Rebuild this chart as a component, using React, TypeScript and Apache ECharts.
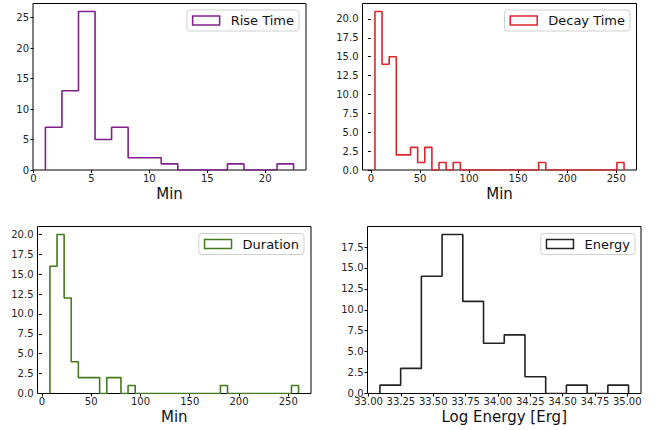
import React, { useEffect, useRef } from 'react';
import * as echarts from 'echarts';

// ---- data ----
const riseRange = [1.03, 22.45];
const riseCounts = [7, 13, 26, 5, 7, 2, 2, 1, 0, 0, 0, 1, 0, 0, 1];

const decayRange = [4.1, 257.9];
const decayCounts = [21, 14, 15, 2, 2, 3, 1, 3, 0, 1, 0, 1, 0, 0, 0, 0, 0, 0, 0, 0, 0, 0, 0, 1, 0, 0, 0, 0, 0, 0, 0, 0, 0, 0, 1];

const durationRange = [8.1, 260.5];
const durationCounts = [16, 20, 12, 4, 2, 2, 2, 0, 2, 2, 0, 1, 0, 0, 0, 0, 0, 0, 0, 0, 0, 0, 0, 0, 1, 0, 0, 0, 0, 0, 0, 0, 0, 0, 1];

const energyRange = [33.088, 35.01];
const energyCounts = [1, 3, 14, 19, 11, 6, 7, 2, 0, 1, 0, 1];

const riseXTicks = [0, 5, 10, 15, 20];
const riseYTicks = [0, 5, 10, 15, 20, 25];
const minXTicks = [0, 50, 100, 150, 200, 250];
const decayYTicks = [0, 2.5, 5, 7.5, 10, 12.5, 15, 17.5, 20];
const durationYTicks = [0, 2.5, 5, 7.5, 10, 12.5, 15, 17.5, 20];
const energyXTicks = [33, 33.25, 33.5, 33.75, 34, 34.25, 34.5, 34.75, 35];
const energyYTicks = [0, 2.5, 5, 7.5, 10, 12.5, 15, 17.5];

const FONT = 'DejaVu Sans';

function stepPoints(range: number[], counts: number[]) {
  const n = counts.length;
  const w = (range[1] - range[0]) / n;
  const pts: number[][] = [[range[0], 0]];
  counts.forEach((c, i) => {
    pts.push([range[0] + i * w, c]);
    pts.push([range[0] + (i + 1) * w, c]);
  });
  pts.push([range[1], 0]);
  return pts;
}

const panels = [
  {
    name: 'Rise Time', color: '#80208a', range: riseRange, counts: riseCounts,
    xTicks: riseXTicks, yTicks: riseYTicks, xFmt: (v: number) => String(v), yFmt: (v: number) => String(v),
    xName: 'Min',
    grid: { left: 33, top: 3.5, width: 273, height: 166.5 },
    legend: { right: 366, top: 10 },
  },
  {
    name: 'Decay Time', color: '#d9262b', range: decayRange, counts: decayCounts,
    xTicks: minXTicks, yTicks: decayYTicks, xFmt: (v: number) => String(v), yFmt: (v: number) => v.toFixed(1),
    xName: 'Min',
    grid: { left: 362.5, top: 3.5, width: 274, height: 166.5 },
    legend: { right: 35, top: 10 },
  },
  {
    name: 'Duration', color: '#437a1f', range: durationRange, counts: durationCounts,
    xTicks: minXTicks, yTicks: durationYTicks, xFmt: (v: number) => String(v), yFmt: (v: number) => v.toFixed(1),
    xName: 'Min',
    grid: { left: 37.5, top: 226.5, width: 273.5, height: 167 },
    legend: { right: 361, top: 233.5 },
  },
  {
    name: 'Energy', color: '#222222', range: energyRange, counts: energyCounts,
    xTicks: energyXTicks, yTicks: energyYTicks, xFmt: (v: number) => v.toFixed(2), yFmt: (v: number) => v.toFixed(1),
    xName: 'Log Energy [Erg]',
    grid: { left: 367.5, top: 226.5, width: 273.5, height: 167 },
    legend: { right: 30, top: 233.5 },
  },
];

export default function App() {
  const ref = useRef<HTMLDivElement>(null);
  useEffect(() => {
    if (!ref.current) return;
    const chart = echarts.init(ref.current, undefined, { renderer: 'svg' });
    const grid: any[] = [];
    const xAxis: any[] = [];
    const yAxis: any[] = [];
    const series: any[] = [];
    const legend: any[] = [];
    panels.forEach((p, i) => {
      const R = p.range[1] - p.range[0];
      const ymax = Math.max(...p.counts) * 1.05;
      grid.push({ ...p.grid, show: true, borderColor: '#000', borderWidth: 1, backgroundColor: '#fff' });
      xAxis.push({
        type: 'value', gridIndex: i,
        min: p.range[0] - 0.05 * R, max: p.range[1] + 0.05 * R,
        axisLine: { show: false },
        splitLine: { show: false },
        axisTick: { show: true, length: 3, customValues: p.xTicks, lineStyle: { color: '#000', width: 1 } },
        axisLabel: { customValues: p.xTicks, formatter: p.xFmt, fontFamily: FONT, fontSize: 10, color: '#222', margin: 3 },
        name: p.xName, nameLocation: 'middle', nameGap: 16,
        nameTextStyle: { fontFamily: FONT, fontSize: 15, color: '#111' },
      });
      yAxis.push({
        type: 'value', gridIndex: i, min: 0, max: ymax,
        axisLine: { show: false },
        splitLine: { show: false },
        axisTick: { show: true, length: 3, customValues: p.yTicks, lineStyle: { color: '#000', width: 1 } },
        axisLabel: { customValues: p.yTicks, formatter: p.yFmt, fontFamily: FONT, fontSize: 10, color: '#222', margin: 4 },
      });
      series.push({
        type: 'line', name: p.name, xAxisIndex: i, yAxisIndex: i,
        data: stepPoints(p.range, p.counts),
        showSymbol: false, symbol: 'none',
        lineStyle: { color: p.color, width: 1.6 },
        itemStyle: { color: p.color },
        z: 3,
      });
      legend.push({
        ...p.legend,
        orient: 'horizontal',
        selectedMode: false,
        data: [{ name: p.name, icon: 'rect', itemStyle: { color: '#fff', borderColor: p.color, borderWidth: 1.5 } }],
        itemWidth: 27, itemHeight: 9,
        padding: [4, 5, 4, 5],
        backgroundColor: 'rgba(255,255,255,0.85)',
        borderColor: '#d0d0d0', borderWidth: 1, borderRadius: 3,
        textStyle: { fontFamily: FONT, fontSize: 13, color: '#111', padding: [0, 0, 0, 6] },
      });
    });
    chart.setOption({
      animation: false,
      backgroundColor: '#fff',
      grid, xAxis, yAxis, series, legend,
    });
    return () => chart.dispose();
  }, []);
  return <div ref={ref} style={{ position: 'fixed', left: 0, top: 0, width: 665, height: 430 }} />;
}
